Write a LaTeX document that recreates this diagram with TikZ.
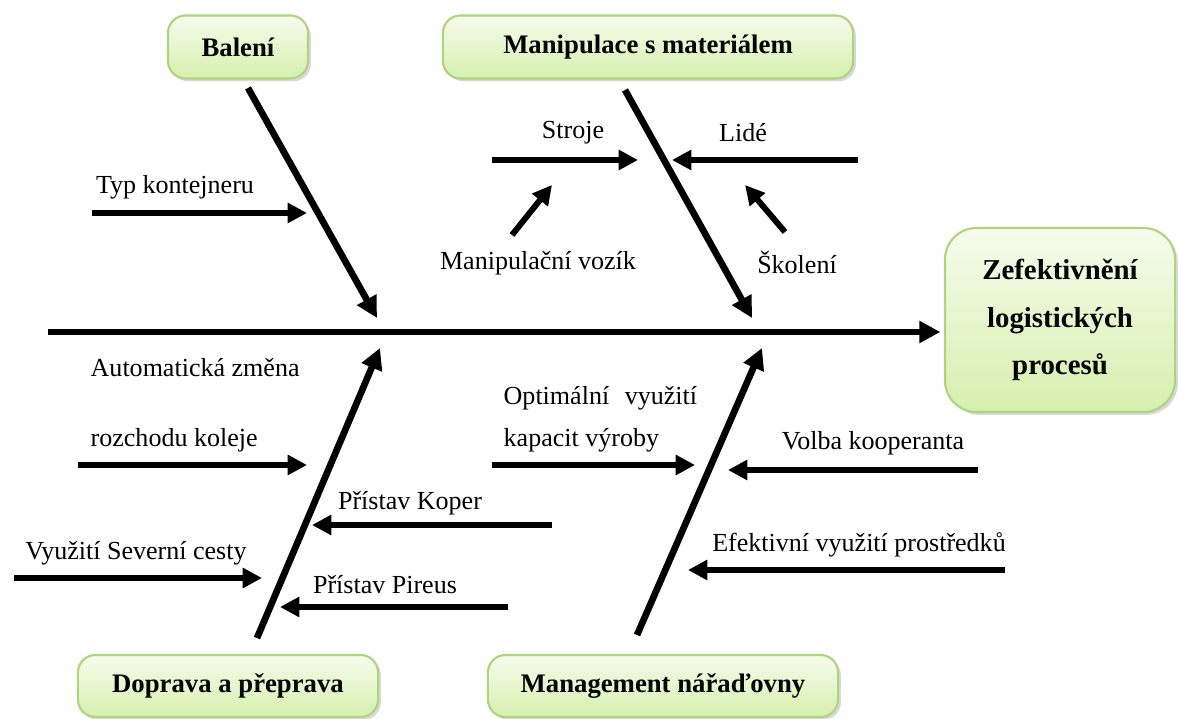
\documentclass[tikz,border=0pt]{standalone}
\usepackage{fontspec}
\setmainfont{Liberation Serif}
\usetikzlibrary{arrows.meta, shadows}

\definecolor{boxtop}{HTML}{F6FCEC}
\definecolor{boxbot}{HTML}{D6EFAE}
\definecolor{boxedge}{HTML}{AFD37F}

\tikzset{
  catbox/.style={draw=boxedge, line width=0.6pt, rounded corners=5pt,
    top color=boxtop, bottom color=boxbot, inner sep=2pt,
    font=\bfseries\fontsize{7.6}{9}\selectfont,
    drop shadow={opacity=0.3, shadow xshift=0.8pt, shadow yshift=-0.8pt}},
  bone/.style={line width=1.9pt, -{Triangle[length=6pt,width=6pt]}},
  twig/.style={line width=1.7pt, -{Triangle[length=5.5pt,width=5.5pt]}},
  lbl/.style={font=\fontsize{7.4}{9}\selectfont, inner sep=0pt},
}

\begin{document}
\begin{tikzpicture}[x=0.01cm, y=-0.01cm]
  \useasboundingbox (0,0) rectangle (1179,719);

  % Category boxes
  \node[catbox, minimum width=1.40cm, minimum height=0.63cm] (baleni) at (238,47) {Balení};
  \node[catbox, minimum width=4.10cm, minimum height=0.63cm] (manip) at (648,47) {Manipulace s materiálem};
  \node[catbox, minimum width=3.00cm, minimum height=0.62cm] (doprava) at (228,686) {Doprava a přeprava};
  \node[catbox, minimum width=3.50cm, minimum height=0.62cm] (mgmt) at (663,686) {Management nářaďovny};

  % Goal box
  \node[catbox, rounded corners=9pt, minimum width=2.30cm, minimum height=1.84cm, align=center,
    font=\bfseries\fontsize{8.2}{13.6}\selectfont] (cil) at (1060,320)
    {Zefektivnění\\ logistických\\ procesů};

  % Spine
  \coordinate (hlava) at (48,332);
  \draw[bone, shorten >=1pt] (hlava) -- (hlava -| cil.west);

  % Main bones
  \coordinate (b1) at (248,88);   \coordinate (b1e) at (377,318);
  \coordinate (b2) at (625,90);   \coordinate (b2e) at (752,318);
  \coordinate (b3) at (257,638);  \coordinate (b3e) at (380,348);
  \coordinate (b4) at (637,635);  \coordinate (b4e) at (762,348);
  \draw[bone] (b1) -- (b1e);
  \draw[bone] (b2) -- (b2e);
  \draw[bone] (b3) -- (b3e);
  \draw[bone] (b4) -- (b4e);

  % Balení
  \node[lbl] (typ) at (175,187) {Typ kontejneru};
  \coordinate (typA) at (92,213);  \coordinate (typB) at (307,213);
  \draw[twig] (typA) -- (typB);

  % Manipulace s materiálem
  \node[lbl] (stroje) at (573,133) {Stroje};
  \coordinate (strA) at (492,160);  \coordinate (strB) at (638,160);
  \draw[twig] (strA) -- (strB);
  \node[lbl] (lide) at (743,133) {Lidé};
  \coordinate (lidA) at (858,160);  \coordinate (lidB) at (672,160);
  \draw[twig] (lidA) -- (lidB);
  \node[lbl] (vozik) at (538,263) {Manipulační vozík};
  \coordinate (vozA) at (512,235);  \coordinate (vozB) at (552,185);
  \draw[twig] (vozA) -- (vozB);
  \node[lbl] (skoleni) at (797,262) {Školení};
  \coordinate (skoA) at (785,232);  \coordinate (skoB) at (745,185);
  \draw[twig] (skoA) -- (skoB);

  % Doprava a přeprava
  \node[lbl, align=left, anchor=north west] (zmena) at (90,358)
    {Automatická změna\\[10.8pt] rozchodu koleje};
  \coordinate (zmA) at (78,465);  \coordinate (zmB) at (307,465);
  \draw[twig] (zmA) -- (zmB);
  \node[lbl] (koper) at (410,503) {Přístav Koper};
  \coordinate (kopA) at (552,525);  \coordinate (kopB) at (312,525);
  \draw[twig] (kopA) -- (kopB);
  \node[lbl] (sever) at (136,553) {Využití Severní cesty};
  \coordinate (sevA) at (14,578);  \coordinate (sevB) at (262,578);
  \draw[twig] (sevA) -- (sevB);
  \node[lbl] (pireus) at (385,585) {Přístav Pireus};
  \coordinate (pirA) at (508,607);  \coordinate (pirB) at (280,607);
  \draw[twig] (pirA) -- (pirB);

  % Management nářaďovny
  \node[lbl, align=left, anchor=north west] (kapacit) at (503,386)
    {\makebox[55pt][l]{Optimální\hfill využití}\\[2.9pt] kapacit výroby};
  \coordinate (kapA) at (492,465);  \coordinate (kapB) at (695,465);
  \draw[twig] (kapA) -- (kapB);
  \node[lbl] (volba) at (873,443) {Volba kooperanta};
  \coordinate (volA) at (978,470);  \coordinate (volB) at (728,470);
  \draw[twig] (volA) -- (volB);
  \node[lbl] (prostr) at (859,545) {Efektivní využití prostředků};
  \coordinate (efA) at (1005,570);  \coordinate (efB) at (688,570);
  \draw[twig] (efA) -- (efB);
\end{tikzpicture}
\end{document}
